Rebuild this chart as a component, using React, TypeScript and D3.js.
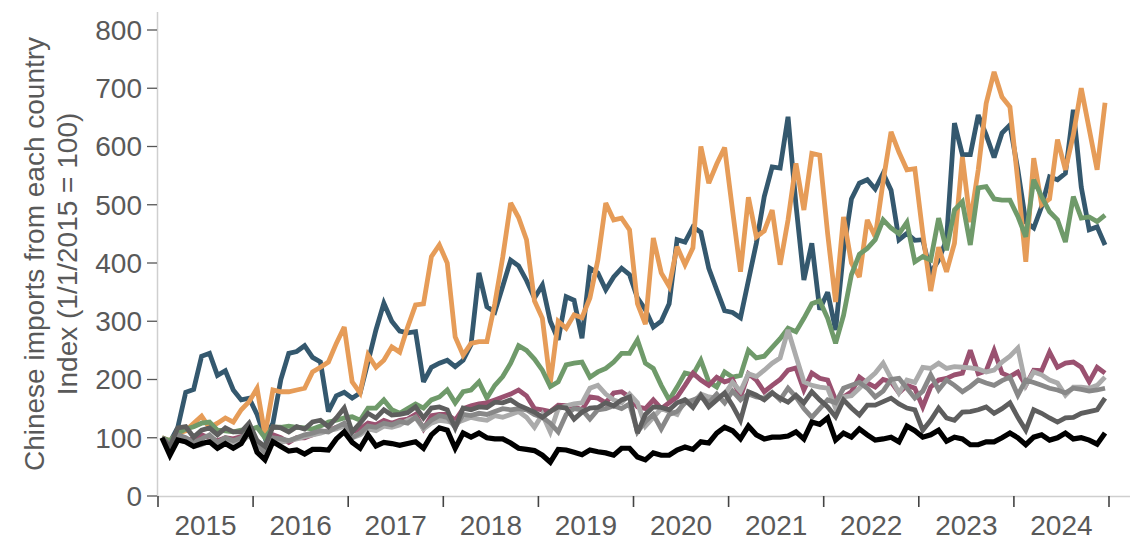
import React from "react";
import * as d3 from "d3";

const years = ["2015", "2016", "2017", "2018", "2019", "2020", "2021", "2022", "2023", "2024"];
const yTicks = [0, 100, 200, 300, 400, 500, 600, 700, 800];

const navy = [
  100, 92, 118, 178, 183, 240, 245, 207, 215, 182, 165, 168,
  140, 100, 125, 200, 245, 248, 258, 238, 230, 145, 172, 178,
  168, 177, 230, 285, 331, 300, 283, 280, 282, 196, 221, 228,
  233, 222, 233, 260, 383, 325, 316, 360, 405, 395, 370, 340,
  362, 300, 268, 342, 336, 271, 391, 383, 354, 376, 391, 380,
  340, 320, 290, 300, 330, 440, 436, 462, 453, 391, 354, 318,
  315, 306, 370, 434, 514, 565, 563, 651, 500, 371, 434, 320,
  350, 285, 420, 510, 537, 543, 527, 554, 525, 440, 451, 439,
  440, 383, 405, 440, 640, 586, 586, 654, 620, 581, 623, 637,
  560, 470, 460, 497, 548, 543, 554, 663, 530, 457, 462, 431,
];
const orange = [
  100, 95, 108, 112, 125, 137, 117, 125, 134, 127, 148, 162,
  185, 105, 182, 179, 179, 182, 185, 213, 221, 230, 262, 290,
  196, 177, 242, 221, 233, 256, 247, 290, 328, 330, 411, 431,
  400, 273, 242, 262, 265, 265, 330, 410, 503, 478, 440, 335,
  305, 194, 300, 288, 311, 306, 340, 405, 503, 474, 477, 457,
  330, 295, 443, 383, 360, 428, 397, 426, 600, 537, 570, 598,
  490, 385, 513, 445, 455, 491, 397, 474, 571, 491, 588, 585,
  450, 333, 479, 400, 376, 474, 445, 540, 625, 590, 560, 562,
  451, 352, 427, 385, 434, 582, 470, 560, 674, 728, 685, 668,
  540, 402, 580, 500, 510, 612, 560, 620, 700, 630, 560, 675,
];
const green = [
  100, 95, 108, 115, 119, 125, 127, 113, 112, 110, 113, 113,
  118, 100, 118, 118, 120, 118, 117, 115, 120, 127, 130, 134,
  136, 130, 151, 151, 165, 148, 142, 150, 158, 151, 165, 170,
  182, 160, 179, 182, 196, 168, 190, 205, 228, 258, 250, 235,
  216, 188, 196, 225, 228, 230, 204, 213, 219, 230, 245, 245,
  268, 228, 219, 190, 165, 187, 211, 208, 233, 196, 187, 213,
  204, 207, 250, 237, 240, 255, 270, 288, 282, 305, 330, 335,
  305, 262, 310, 380, 415, 425, 440, 474, 460, 450, 470, 402,
  411, 405, 477, 422, 491, 505, 431, 529, 531, 510, 508, 508,
  480, 445, 543, 514, 488, 474, 436, 514, 477, 479, 471, 482,
];
const maroon = [
  100, 88, 100, 95, 98, 105, 100, 95, 100, 98, 102, 108,
  95, 80, 105, 100, 92, 100, 100, 105, 110, 112, 118, 120,
  110, 115, 125, 122, 130, 125, 130, 132, 140, 115, 138, 140,
  140, 130, 150, 155, 158, 160, 165, 170, 175, 182, 172, 150,
  148, 145, 156, 155, 153, 148, 170, 168, 160, 177, 179, 170,
  153, 150, 165, 150, 160, 170, 190, 211, 199, 190, 204, 196,
  200, 170, 210, 199, 179, 190, 200, 216, 220, 182, 211, 202,
  199, 165, 170, 179, 204, 194, 187, 200, 196, 177, 190, 185,
  153, 187, 199, 202, 208, 211, 250, 210, 215, 250, 211, 205,
  213, 190, 216, 215, 247, 221, 228, 230, 221, 196, 221, 211,
];
const lightGray = [
  100, 85, 98, 92, 85, 88, 95, 88, 95, 90, 92, 105,
  85, 70, 95, 92, 95, 98, 102, 105, 108, 112, 115, 120,
  100, 105, 115, 112, 120, 118, 122, 130, 135, 115, 125, 130,
  128, 125, 130, 135, 132, 130, 138, 135, 140, 145, 135, 118,
  140, 110, 150, 155, 158, 160, 185, 190, 175, 165, 160, 175,
  160, 120, 135, 150, 145, 140, 165, 160, 175, 170, 168, 175,
  195, 180, 210, 205, 216, 228, 237, 285, 240, 196, 190, 187,
  185, 151, 170, 172, 185, 199, 211, 228, 202, 177, 199, 195,
  221, 219, 228, 219, 222, 221, 220, 218, 213, 216, 230, 240,
  254, 190, 213, 208, 199, 194, 173, 187, 187, 185, 190, 204,
];
const midGray = [
  100, 88, 105, 100, 92, 98, 105, 92, 100, 95, 100, 112,
  90, 75, 100, 98, 95, 100, 105, 108, 112, 110, 118, 125,
  100, 108, 120, 118, 125, 122, 128, 125, 135, 118, 130, 138,
  135, 118, 140, 138, 142, 140, 145, 150, 148, 150, 148, 140,
  135, 125, 110, 140, 150, 148, 132, 148, 150, 155, 150, 158,
  110, 128, 140, 115, 140, 145, 160, 165, 170, 160, 175, 160,
  180, 165, 175, 170, 168, 178, 165, 185, 170, 150, 135, 150,
  165, 160, 185, 190, 195, 185, 170, 180, 200, 202, 185, 168,
  180, 208, 182, 199, 190, 179, 188, 199, 194, 190, 198, 204,
  173, 199, 195, 190, 185, 182, 177, 185, 183, 180, 182, 185,
];
const darkGray = [
  100, 85, 117, 119, 101, 113, 117, 105, 117, 110, 110, 125,
  95, 85, 119, 117, 110, 119, 115, 127, 130, 119, 134, 151,
  110, 125, 142, 134, 148, 139, 140, 143, 153, 134, 151, 153,
  148, 117, 151, 148, 153, 152, 161, 160, 165, 156, 150, 144,
  135, 145, 153, 151, 132, 144, 151, 152, 160, 155, 165, 170,
  108, 140, 153, 152, 148, 160, 165, 152, 173, 153, 165, 177,
  155, 130, 179, 173, 165, 177, 168, 161, 173, 160, 179, 165,
  153, 136, 165, 151, 139, 156, 156, 162, 168, 158, 151, 148,
  113, 130, 151, 134, 130, 144, 145, 148, 153, 142, 150, 160,
  135, 113, 148, 142, 134, 127, 134, 135, 142, 145, 148, 168,
];
const black = [
  100, 70, 96, 93, 85, 90, 93, 82, 90, 82, 90, 113,
  75, 62, 93, 85, 77, 79, 72, 80, 80, 79, 98, 110,
  92, 82, 105, 86, 92, 90, 87, 90, 93, 82, 105, 117,
  113, 82, 108, 101, 108, 100, 98, 98, 91, 82, 80, 78,
  70, 58, 80, 79, 75, 71, 79, 76, 74, 70, 82, 82,
  67, 62, 74, 70, 70, 79, 84, 80, 93, 91, 108, 118,
  112, 98, 120, 105, 98, 101, 101, 103, 110, 98, 127, 123,
  134, 96, 108, 101, 115, 105, 96, 98, 101, 93, 120, 112,
  101, 105, 113, 94, 101, 98, 88, 88, 93, 93, 100, 108,
  100, 88, 101, 105, 96, 100, 108, 98, 100, 96, 89, 108,
];

const series = [
  { name: "navy", values: navy, color: "#34586e", width: 4.8 },
  { name: "orange", values: orange, color: "#e69c58", width: 4.8 },
  { name: "green", values: green, color: "#6f9a6a", width: 4.8 },
  { name: "maroon", values: maroon, color: "#9a5170", width: 4.8 },
  { name: "lightGray", values: lightGray, color: "#ababab", width: 4.8 },
  { name: "midGray", values: midGray, color: "#888888", width: 4.8 },
  { name: "darkGray", values: darkGray, color: "#5e5e5e", width: 4.8 },
  { name: "black", values: black, color: "#000000", width: 5.2 },
];

const W = 1135;
const H = 540;
const FONT = "'Liberation Sans', Arial, Helvetica, sans-serif";
const TXT = "#595959";
const FS = 28;

export default function App() {
  const x = d3.scaleLinear().domain([0, 120]).range([158, 1109]);
  const y = d3.scaleLinear().domain([0, 800]).range([496, 30]);
  const line = d3
    .line<number>()
    .x((_, i) => x(i + 0.5))
    .y((d) => y(d));

  return (
    <div style={{ position: "absolute", left: 0, top: 0 }}>
      <svg width={W} height={H} style={{ display: "block", background: "#fff" }}>
        <line x1={157.5} x2={157.5} y1={12} y2={496} stroke="#cfcfcf" strokeWidth={1.5} />
        <line x1={157} x2={1130} y1={496.5} y2={496.5} stroke="#cfcfcf" strokeWidth={1.5} />
        {yTicks.map((t) => (
          <g key={t}>
            <line x1={147} x2={157} y1={y(t)} y2={y(t)} stroke="#555" strokeWidth={1.3} />
            <text
              x={142}
              y={y(t)}
              dy="0.35em"
              textAnchor="end"
              fontFamily={FONT}
              fontSize={FS}
              fill={TXT}
            >
              {t}
            </text>
          </g>
        ))}
        {d3.range(0, 121, 12).map((m) => (
          <line key={m} x1={x(m)} x2={x(m)} y1={496} y2={507} stroke="#444" strokeWidth={1.6} />
        ))}
        {years.map((yr, k) => (
          <text
            key={yr}
            x={x(k * 12 + 6)}
            y={525}
            dy="0.35em"
            textAnchor="middle"
            fontFamily={FONT}
            fontSize={FS}
            fill={TXT}
          >
            {yr}
          </text>
        ))}
        <text
          transform="translate(44,254) rotate(-90)"
          textAnchor="middle"
          fontFamily={FONT}
          fontSize={FS}
          fill={TXT}
        >
          Chinese imports from each country
        </text>
        <text
          transform="translate(77,254) rotate(-90)"
          textAnchor="middle"
          fontFamily={FONT}
          fontSize={FS}
          fill={TXT}
        >
          Index (1/1/2015 = 100)
        </text>
        {series.map((s) => (
          <path
            key={s.name}
            d={line(s.values) || ""}
            fill="none"
            stroke={s.color}
            strokeWidth={s.width}
            strokeLinejoin="miter"
            strokeMiterlimit={3}
          />
        ))}
      </svg>
    </div>
  );
}
